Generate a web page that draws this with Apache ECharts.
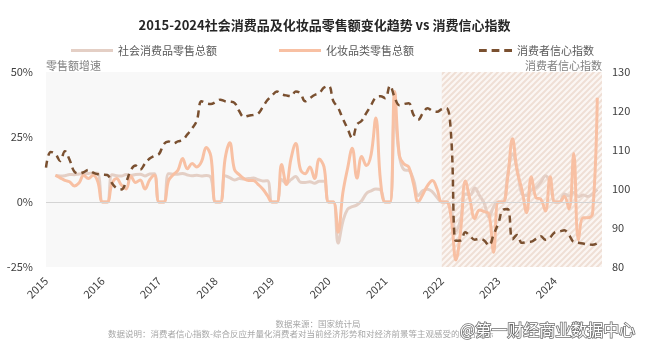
<!DOCTYPE html>
<html>
<head>
<meta charset="utf-8">
<script src="https://cdn.jsdelivr.net/npm/echarts@6/dist/echarts.min.js"></script>
<style>
    html, body { margin: 0; padding: 0; background: #fff; }
    #chart { width: 649px; height: 351px; }
</style>
</head>
<body>
<div id="chart"></div>
<script>
// 年份（横轴只标注每年1月）
const years = ['2015', '2016', '2017', '2018', '2019', '2020', '2021', '2022', '2023', '2024'];
// 月份类目：2015-01 ~ 2024-11
const months = [];
years.forEach(function (y) {
    for (let m = 1; m <= 12; m++) {
        if (y === '2024' && m > 11) break;
        months.push(y + '-' + (m < 10 ? '0' + m : m));
    }
});

// 社会消费品零售总额 同比增速(%)，1-2月无单月数据记为0
const retailGrowth = [
    null, null, 10.2, 10.0, 10.1, 10.6, 10.5, 10.8, 10.9, 11.0, 11.2, 11.1,
    0, 0, 10.5, 10.1, 10.0, 10.6, 10.2, 10.6, 10.7, 10.0, 10.8, 10.9,
    0, 0, 10.9, 10.7, 10.7, 11.0, 10.4, 10.1, 10.3, 10.0, 10.2, 9.4,
    0, 0, 10.1, 9.4, 8.5, 9.0, 8.8, 9.0, 9.2, 8.6, 8.1, 8.2,
    0, 0, 8.7, 7.2, 8.6, 9.8, 7.6, 7.5, 7.8, 7.2, 8.0, 8.0,
    0, 0, -15.8, -7.5, -2.8, -1.8, -1.1, 0.5, 3.3, 4.3, 5.0, 4.6,
    0, 0, 34.2, 17.7, 12.4, 12.1, 8.5, 2.5, 4.4, 4.9, 3.9, 1.7,
    0, 0, -3.5, -11.1, -6.7, 3.1, 2.7, 5.4, 2.5, -0.5, -5.9, -1.8,
    0, 0, 10.6, 18.4, 12.7, 3.1, 2.5, 4.6, 5.5, 7.6, 10.1, 7.4,
    0, 0, 3.1, 2.3, 3.7, 2.0, 2.7, 2.1, 3.2, 4.8, null,
];

// 化妆品类零售额 同比增速(%)
const cosmeticsGrowth = [
    null, null, 10.3, 9.3, 8.3, 7.8, 6.2, 7.3, 10.3, 9.0, 10.3, 7.8,
    0, 0, 7.0, 9.0, 6.5, 5.0, 10.0, 7.5, 8.5, 5.0, 8.5, 10.3,
    0, 0, 8.2, 10.5, 12.2, 16.7, 12.8, 14.8, 13.5, 15.5, 21.0, 17.5,
    0, 0, 16.5, 22.8, 12.5, 10.5, 9.0, 8.3, 8.3, 6.8, 5.0, 2.5,
    0, 0, 14.4, 6.7, 16.7, 22.5, 12.5, 10.9, 13.5, 9.0, 16.5, 13.5,
    0, 0, -11.6, 3.5, 12.9, 20.7, 9.2, 17.5, 14.0, 18.3, 32.3, 8.0,
    0, 0, 42.5, 17.8, 14.6, 13.4, 7.0, 0.0, 3.0, 6.4, 8.3, 5.0,
    0, 0, -6.3, -22.3, -11.0, 8.1, 0.7, -6.4, -3.1, -3.7, -4.6, -19.3,
    0, 0, 9.6, 24.3, 11.7, 4.8, -4.1, 9.7, 1.6, 1.1, -3.5, 9.7,
    0, 0, 2.2, -2.7, 18.7, -14.6, -6.1, -6.1, -4.5, 40.1, null,
];

// 消费者信心指数
const confidenceIndex = [
    105.5, 109.5, 109.0, 107.2, 109.7, 107.5, 104.5, 104.0, 104.3, 104.9, 104.2, 103.8,
    103.7, 103.6, 101.5, 100.2, 99.9, 101.8, 104.8, 106.0, 105.0, 106.5, 107.8, 108.5,
    109.0, 111.5, 112.2, 111.7, 112.2, 112.6, 114.0, 115.5, 117.5, 122.5, 122.0, 121.8,
    122.3, 122.9, 122.5, 122.4, 122.1, 120.0, 118.5, 118.8, 119.0, 119.3, 121.0, 122.8,
    124.0, 125.0, 124.3, 124.0, 123.8, 125.0, 124.5, 122.5, 123.3, 124.1, 124.6, 126.0,
    126.4, 122.5, 120.8, 118.0, 115.5, 113.0, 116.5, 117.5, 119.5, 121.5, 123.5, 123.8,
    123.3, 126.5, 123.5, 121.5, 121.8, 122.0, 119.0, 117.8, 119.5, 120.7, 120.0, 119.8,
    120.5, 120.7, 113.2, 86.7, 86.8, 88.9, 87.9, 87.0, 87.2, 86.8, 85.5, 88.3,
    91.2, 94.7, 94.9, 87.1, 88.2, 86.2, 86.4, 86.5, 87.2, 87.9, 87.0, 87.6,
    88.9, 89.1, 89.4, 88.2, 86.4, 86.2, 86.0, 85.8, 85.7, 86.1, null,
];

// 阴影区间（2022年以后）
const shadeRange = ['2022-01', '2024-11'];

const FONT = '"Noto Sans CJK SC", "Noto Sans", sans-serif';
const COLOR_RETAIL = '#e4cfc5';
const COLOR_COSMETICS = '#f8c0a3';
const COLOR_CCI = '#7a5030';

function hatchPattern() {
    const c = document.createElement('canvas');
    c.width = 6;
    c.height = 6;
    const ctx = c.getContext('2d');
    ctx.fillStyle = '#fbf6f3';
    ctx.fillRect(0, 0, 6, 6);
    ctx.strokeStyle = '#efdfd5';
    ctx.lineWidth = 2;
    ctx.beginPath();
    ctx.moveTo(0, 6); ctx.lineTo(6, 0);
    ctx.moveTo(-1, 1); ctx.lineTo(1, -1);
    ctx.moveTo(5, 7); ctx.lineTo(7, 5);
    ctx.stroke();
    return c;
}

const chart = echarts.init(document.getElementById('chart'));

const legendText = { fontSize: 11, color: '#595959' };

const option = {
    animation: false,
    textStyle: { fontFamily: FONT },
    title: {
        text: '2015-2024社会消费品及化妆品零售额变化趋势 vs 消费信心指数',
        left: 'center',
        top: 14,
        textStyle: { fontSize: 13, fontWeight: 'bold', color: '#262626', fontFamily: FONT },
    },
    legend: [
        {
            data: [{ name: '社会消费品零售总额', icon: 'rect' }],
            left: 66, top: 40,
            itemWidth: 42, itemHeight: 3,
            textStyle: legendText,
        },
        {
            data: [{ name: '化妆品类零售总额', icon: 'rect' }],
            left: 274, top: 40,
            itemWidth: 42, itemHeight: 3,
            textStyle: legendText,
        },
        {
            data: [{ name: '消费者信心指数', icon: 'path://M0,0H8V3H0Z M13,0H21V3H13Z M26,0H34V3H26Z' }],
            left: 474, top: 40,
            itemWidth: 33, itemHeight: 3,
            textStyle: legendText,
        },
    ],
    grid: {
        left: 46, right: 47, top: 72, bottom: 84,
        show: true, backgroundColor: '#f8f8f8', borderWidth: 0,
    },
    xAxis: {
        type: 'category',
        data: months,
        boundaryGap: false,
        axisLine: { show: false, onZero: false },
        axisTick: { show: false },
        axisLabel: {
            interval: function (idx, val) { return val.slice(5) === '01'; },
            formatter: function (val) { return val.slice(0, 4); },
            rotate: 45,
            margin: 12,
            fontSize: 11,
            color: '#404040',
        },
        splitLine: { show: false },
    },
    yAxis: [
        {
            type: 'value',
            min: -25, max: 50, interval: 25,
            name: '零售额增速',
            nameLocation: 'end',
            nameGap: 1,
            nameTextStyle: { align: 'left', fontSize: 11, color: '#808080' },
            axisLabel: { formatter: '{value}%', fontSize: 11, color: '#404040', margin: 13 },
            axisLine: { show: false },
            axisTick: { show: false },
            splitLine: { show: false },
        },
        {
            type: 'value',
            min: 80, max: 130, interval: 10,
            name: '消费者信心指数',
            nameLocation: 'end',
            nameGap: 1,
            nameTextStyle: { align: 'right', fontSize: 11, color: '#808080' },
            axisLabel: { fontSize: 11, color: '#404040', margin: 10 },
            axisLine: { show: false },
            axisTick: { show: false },
            splitLine: { show: false },
        },
    ],
    series: [
        {
            // 背景阴影及0%参考线
            name: 'bg',
            type: 'line',
            data: [],
            z: 1,
            silent: true,
            markArea: {
                silent: true,
                itemStyle: { color: { image: hatchPattern(), repeat: 'repeat' } },
                data: [[{ xAxis: shadeRange[0] }, { xAxis: shadeRange[1] }]],
            },
            markLine: {
                silent: true,
                symbol: 'none',
                label: { show: false },
                lineStyle: { color: '#d4d4d4', width: 1, type: 'solid' },
                data: [{ yAxis: 0 }],
            },
        },
        {
            name: '社会消费品零售总额',
            type: 'line',
            data: retailGrowth,
            smooth: 0.4,
            symbol: 'none',
            z: 2,
            lineStyle: { color: COLOR_RETAIL, width: 3 },
            itemStyle: { color: COLOR_RETAIL },
        },
        {
            name: '化妆品类零售总额',
            type: 'line',
            data: cosmeticsGrowth,
            smooth: 0.4,
            symbol: 'none',
            z: 3,
            lineStyle: { color: COLOR_COSMETICS, width: 3 },
            itemStyle: { color: COLOR_COSMETICS },
        },
        {
            name: '消费者信心指数',
            type: 'line',
            yAxisIndex: 1,
            data: confidenceIndex,
            smooth: 0.4,
            symbol: 'none',
            z: 4,
            lineStyle: { color: COLOR_CCI, width: 2.5, type: [7, 5] },
            itemStyle: { color: COLOR_CCI },
        },
    ],
    graphic: [
        {
            type: 'text', x: 318, y: 320,
            style: { text: '数据来源：国家统计局', fill: '#a6a6a6', font: '8.5px ' + FONT, textAlign: 'center' },
        },
        {
            type: 'text', x: 108, y: 330,
            style: {
                text: '数据说明：消费者信心指数-综合反应并量化消费者对当前经济形势和对经济前景等主观感受的综合指标',
                fill: '#a6a6a6', font: '8.5px ' + FONT,
            },
        },
        {
            type: 'text', x: 460, y: 322,
            style: {
                text: '@第一财经商业数据中心',
                fill: '#ffffff', stroke: '#6e6e6e', lineWidth: 1.5,
                font: '16px ' + FONT,
            },
        },
    ],
};

chart.setOption(option);
</script>
</body>
</html>
